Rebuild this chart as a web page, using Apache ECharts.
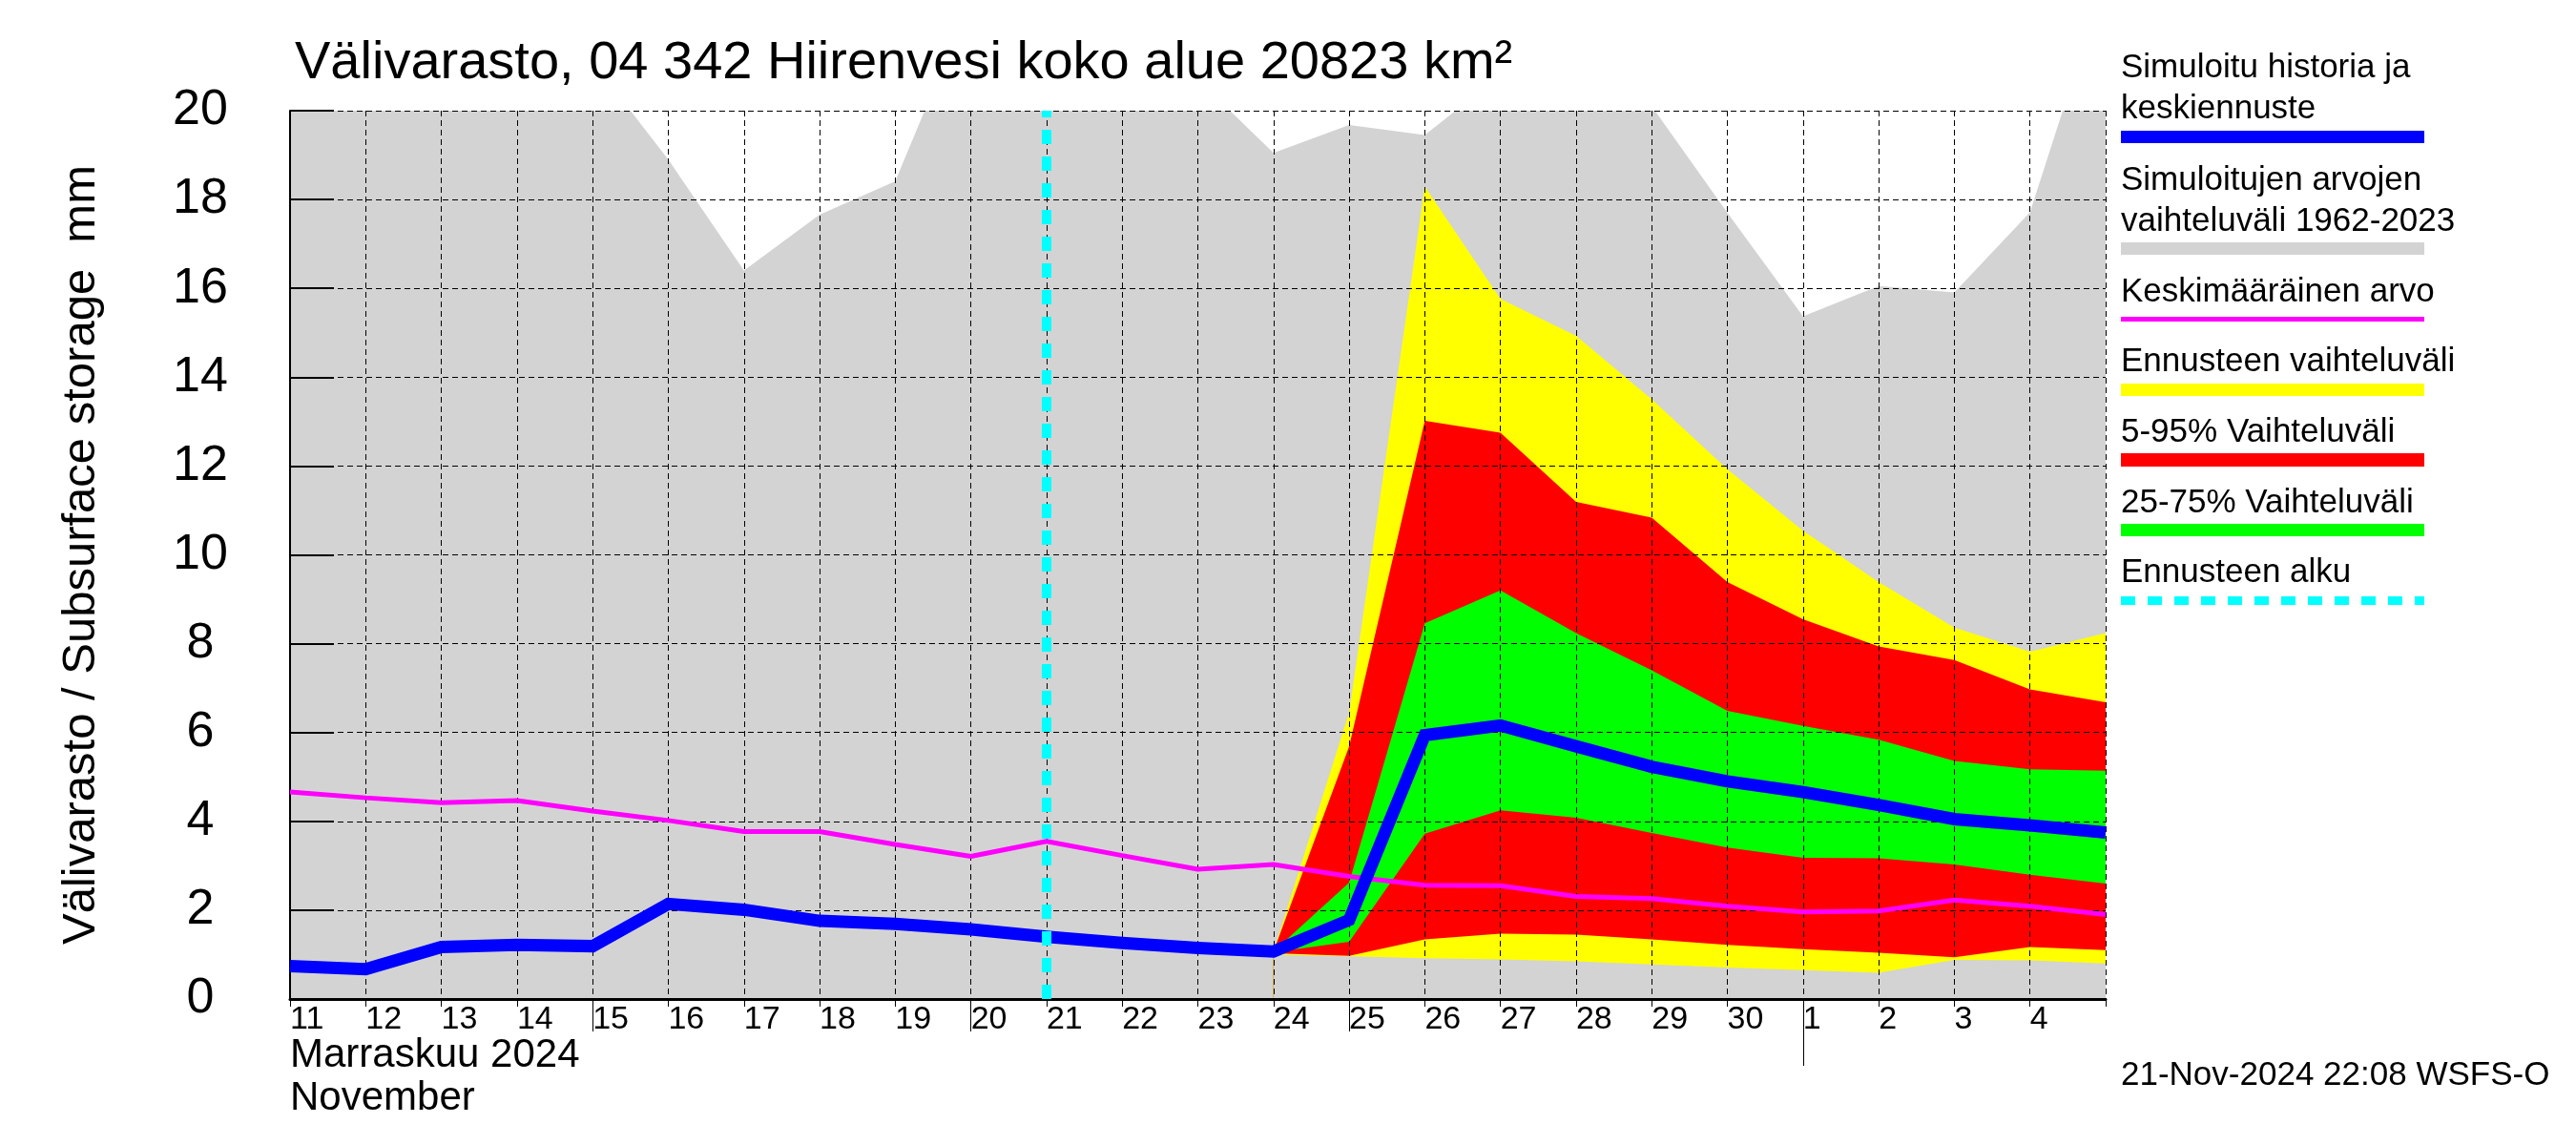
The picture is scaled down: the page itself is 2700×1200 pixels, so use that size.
<!DOCTYPE html>
<html>
<head>
<meta charset="utf-8">
<script src="https://cdn.jsdelivr.net/npm/echarts@6/dist/echarts.min.js"></script>
<style>
html,body{margin:0;padding:0;background:#fff;}
#chart{width:2700px;height:1200px;}
</style>
</head>
<body>
<div id="chart"></div>
<script>
// ---- data (index 0 = 11 Nov 2024, daily to 5 Dec 2024) ----
const dayLabels = ['11','12','13','14','15','16','17','18','19','20','21','22','23','24','25','26','27','28','29','30','1','2','3','4','5'];
const yTicks = [0, 2, 4, 6, 8, 10, 12, 14, 16, 18, 20];
// simulated range 1962-2023 (upper envelope; lower envelope ~0)
const grayMax = [21, 21, 21, 21, 21.1, 18.9, 16.4, 17.66, 18.41, 22.5, 22, 21.5, 20.7, 19.05, 19.68, 19.45, 20.8, 21, 20.1, 17.7, 15.37, 16.05, 15.91, 17.71, 23];
// mean value
const meanValue = [4.66, 4.53, 4.42, 4.47, 4.23, 4.02, 3.77, 3.77, 3.48, 3.21, 3.55, 3.23, 2.92, 3.03, 2.76, 2.56, 2.55, 2.31, 2.26, 2.09, 1.96, 1.98, 2.23, 2.09, 1.9];
// simulated history + median forecast
const simulated = [0.74, 0.67, 1.17, 1.22, 1.19, 2.14, 2.01, 1.76, 1.69, 1.57, 1.4, 1.26, 1.15, 1.07, 1.78, 5.94, 6.16, 5.69, 5.23, 4.9, 4.66, 4.37, 4.05, 3.91, 3.75];
// forecast bands, starting at index 13 (24 Nov)
const forecastFrom = 13;
const fcMax = [1.07, 6.45, 18.29, 15.76, 14.93, 13.5, 11.93, 10.54, 9.39, 8.36, 7.82, 8.24];
const fc95  = [1.07, 5.69, 13.02, 12.75, 11.19, 10.84, 9.39, 8.55, 7.94, 7.63, 6.97, 6.68];
const fc75  = [1.07, 2.62, 8.46, 9.2, 8.24, 7.4, 6.49, 6.15, 5.84, 5.36, 5.17, 5.14];
const fc25  = [1.05, 1.29, 3.72, 4.25, 4.08, 3.74, 3.41, 3.18, 3.17, 3.03, 2.8, 2.6];
const fc5   = [1.03, 0.97, 1.34, 1.47, 1.45, 1.34, 1.22, 1.12, 1.04, 0.94, 1.17, 1.1];
const fcMin = [1.0, 0.96, 0.92, 0.89, 0.85, 0.78, 0.71, 0.65, 0.59, 0.88, 0.87, 0.8];
const forecastStartIndex = 10;      // 21 Nov
const fiveDayTicks = [4, 9, 14];    // 15, 20, 25 Nov
const monthStartTicks = [20];       // 1 Dec

const titleText = 'Välivarasto, 04 342 Hiirenvesi koko alue 20823 km²';
const yName = 'Välivarasto / Subsurface storage  mm';
const monthText = 'Marraskuu 2024';
const monthTextEn = 'November';
const footerText = '21-Nov-2024 22:08 WSFS-O';
const legendItems = [
  { lines: ['Simuloitu historia ja', 'keskiennuste'], color: '#0000ff', width: 13 },
  { lines: ['Simuloitujen arvojen', 'vaihteluväli 1962-2023'], color: '#d3d3d3', width: 13 },
  { lines: ['Keskimääräinen arvo'], color: '#ff00ff', width: 5 },
  { lines: ['Ennusteen vaihteluväli'], color: '#ffff00', width: 13 },
  { lines: ['5-95% Vaihteluväli'], color: '#ff0000', width: 14 },
  { lines: ['25-75% Vaihteluväli'], color: '#00ff00', width: 13 },
  { lines: ['Ennusteen alku'], color: '#00ffff', width: 9, dash: [15, 13] }
];

// ---- helpers ----
const FONT = '"Liberation Sans", Arial, Helvetica, sans-serif';
const pairs = arr => arr.map((v, i) => [i, v]);
const fcPairs = arr => arr.map((v, i) => [forecastFrom + i, v]);
const gridDash = { color: '#000', width: 1, type: [6, 4] };

function areaSeries(name, data, color) {
  return {
    name, type: 'line', data, z: 2,
    showSymbol: false, symbol: 'none', silent: true, animation: false,
    lineStyle: { width: 0, opacity: 0 },
    areaStyle: { color, opacity: 1 }
  };
}

const chart = echarts.init(document.getElementById('chart'), null, { renderer: 'canvas' });

// legend graphics
const legendGraphics = [];
const legendX = 2223, legendX2 = 2541;
const legendTextY = [[71.5, 114], [189, 232], [306], [379], [453], [527], [600]];
const legendLineY = [143.5, 260.5, 334.5, 408.5, 482, 555.5, 629.5];
legendItems.forEach((it, k) => {
  it.lines.forEach((t, j) => {
    legendGraphics.push({
      type: 'text', z: 100,
      style: { text: t, x: legendX, y: legendTextY[k][j], fontSize: 35, fontFamily: FONT, fill: '#000', verticalAlign: 'middle', align: 'left' }
    });
  });
  legendGraphics.push({
    type: 'line', z: 100,
    shape: { x1: legendX, y1: legendLineY[k], x2: legendX2, y2: legendLineY[k] },
    style: { stroke: it.color, lineWidth: it.width, lineDash: it.dash || null, lineCap: 'butt' }
  });
});

const option = {
  backgroundColor: '#ffffff',
  animation: false,
  grid: { left: 304, top: 116, right: 493, bottom: 153, containLabel: false, outerBoundsMode: 'none' },
  xAxis: [
    {
      type: 'value', min: 0, max: dayLabels.length - 1, interval: 1, position: 'bottom', z: 5,
      axisLine: { show: true, onZero: false, lineStyle: { color: '#000', width: 3 } },
      axisTick: { show: true, length: 8, lineStyle: { color: '#000', width: 1 } },
      axisLabel: {
        show: true, align: 'left', margin: 5, fontSize: 34, fontFamily: FONT, color: '#000',
        showMinLabel: true, showMaxLabel: true,
        formatter: v => (v >= dayLabels.length - 1 ? '' : dayLabels[v])
      },
      splitLine: { show: true, lineStyle: gridDash }
    },
    {
      type: 'value', min: 0, max: dayLabels.length - 1, position: 'bottom',
      axisLine: { show: false, onZero: false },
      axisTick: { show: true, customValues: fiveDayTicks, length: 34, lineStyle: { color: '#000', width: 1 } },
      axisLabel: { show: false },
      splitLine: { show: false }
    },
    {
      type: 'value', min: 0, max: dayLabels.length - 1, position: 'bottom',
      axisLine: { show: false, onZero: false },
      axisTick: { show: true, customValues: monthStartTicks, length: 70, lineStyle: { color: '#000', width: 1 } },
      axisLabel: { show: false },
      splitLine: { show: false }
    }
  ],
  yAxis: {
    type: 'value', min: yTicks[0], max: yTicks[yTicks.length - 1], interval: 2, z: 5,
    name: yName, nameLocation: 'middle', nameGap: 194, nameRotate: 90,
    nameTextStyle: { fontSize: 49, fontFamily: FONT, color: '#000' },
    axisLine: { show: true, lineStyle: { color: '#000', width: 2 } },
    axisTick: { show: true, inside: true, length: 46, lineStyle: { color: '#000', width: 2 } },
    axisLabel: { show: true, align: 'center', margin: 94, fontSize: 52, fontFamily: FONT, color: '#000', padding: [0, 0, 18, 0] },
    splitLine: { show: true, lineStyle: gridDash }
  },
  series: [
    areaSeries('Simuloitujen arvojen vaihteluväli 1962-2023', pairs(grayMax), '#d3d3d3'),
    areaSeries('Ennusteen vaihteluväli max', fcPairs(fcMax), '#ffff00'),
    areaSeries('95%', fcPairs(fc95), '#ff0000'),
    areaSeries('75%', fcPairs(fc75), '#00ff00'),
    areaSeries('25%', fcPairs(fc25), '#ff0000'),
    areaSeries('5%', fcPairs(fc5), '#ffff00'),
    areaSeries('Ennusteen vaihteluväli min', fcPairs(fcMin), '#d3d3d3'),
    {
      name: 'Keskimääräinen arvo', type: 'line', data: pairs(meanValue), z: 6,
      showSymbol: false, symbol: 'none', silent: true,
      lineStyle: { color: '#ff00ff', width: 5 }
    },
    {
      name: 'Simuloitu historia ja keskiennuste', type: 'line', data: pairs(simulated), z: 7,
      showSymbol: false, symbol: 'none', silent: true,
      lineStyle: { color: '#0000ff', width: 13, join: 'miter' },
      markLine: {
        z: 10, silent: true, symbol: ['none', 'none'], animation: false,
        label: { show: false },
        lineStyle: { color: '#00ffff', width: 10, type: [15, 13], opacity: 1 },
        emphasis: { disabled: true },
        data: [{ xAxis: forecastStartIndex }]
      }
    }
  ],
  graphic: [
    { type: 'text', z: 100, style: { text: titleText, x: 309, y: 67, fontSize: 56, fontFamily: FONT, fill: '#000', verticalAlign: 'middle', align: 'left' } },
    { type: 'text', z: 100, style: { text: monthText, x: 304, y: 1106, fontSize: 42, fontFamily: FONT, fill: '#000', verticalAlign: 'middle', align: 'left' } },
    { type: 'text', z: 100, style: { text: monthTextEn, x: 304, y: 1151, fontSize: 42, fontFamily: FONT, fill: '#000', verticalAlign: 'middle', align: 'left' } },
    { type: 'text', z: 100, style: { text: footerText, x: 2223, y: 1127, fontSize: 35, fontFamily: FONT, fill: '#000', verticalAlign: 'middle', align: 'left' } }
  ].concat(legendGraphics)
};
chart.setOption(option);
</script>
</body>
</html>
